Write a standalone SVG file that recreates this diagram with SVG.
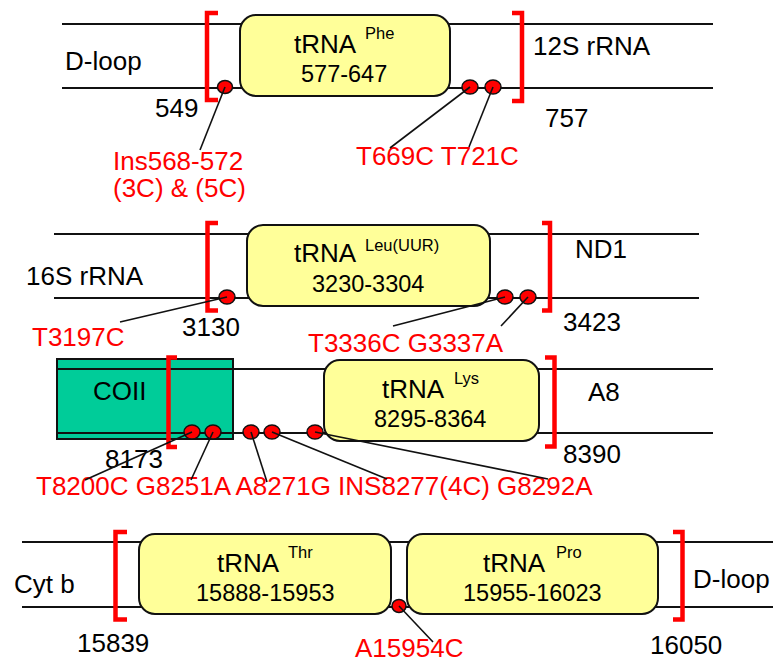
<svg xmlns="http://www.w3.org/2000/svg" width="774" height="664" viewBox="0 0 774 664">
<style>
text{font-family:"Liberation Sans",Arial,sans-serif;}
.dna{stroke:#111;stroke-width:2;fill:none;}
.box{fill:#FFFF99;stroke:#111;stroke-width:2;}
.coii{fill:#00CC99;stroke:#111;stroke-width:2;}
.br{fill:none;stroke:#FF0000;stroke-width:4.5;stroke-linejoin:miter;}
.dot{fill:#FF0000;stroke:#111;stroke-width:1.5;}
.lead{stroke:#111;stroke-width:1.6;fill:none;}
.lbl{font-size:26px;fill:#000;}
.red{font-size:26px;fill:#FF0000;}
.t{font-size:26px;fill:#000;}
.sup{font-size:16.5px;fill:#000;}
.rng{font-size:23.5px;fill:#000;}
</style>
<rect width="774" height="664" fill="#fff"/>

<g id="dna-lines">
<line class="dna" x1="62" y1="24" x2="713" y2="24"/>
<line class="dna" x1="62" y1="88" x2="713" y2="88"/>
<line class="dna" x1="54" y1="234" x2="699" y2="234"/>
<line class="dna" x1="54" y1="298" x2="699" y2="298"/>
<line class="dna" x1="22" y1="542" x2="773" y2="542"/>
<line class="dna" x1="22" y1="607" x2="773" y2="607"/>
</g>

<g id="coii">
<rect class="coii" x="57" y="359" width="176" height="80"/>
<text class="lbl" x="93" y="400">COII</text>
</g>
<g id="dna-lines-3">
<line class="dna" x1="57" y1="369" x2="713" y2="369"/>
<line class="dna" x1="57" y1="433" x2="713" y2="433"/>
</g>

<g id="trna-phe">
<rect class="box" x="240" y="15" width="210" height="81" rx="16"/>
<text class="t" x="294" y="53">tRNA</text>
<text class="sup" x="365" y="39">Phe</text>
<text class="rng" x="301" y="82">577-647</text>
</g>
<g id="trna-leu">
<rect class="box" x="247" y="225" width="243" height="81" rx="16"/>
<text class="t" x="294" y="262">tRNA</text>
<text class="sup" x="365" y="251">Leu(UUR)</text>
<text class="rng" x="312" y="292">3230-3304</text>
</g>
<g id="trna-lys">
<rect class="box" x="324" y="360" width="215" height="81" rx="16"/>
<text class="t" x="382" y="398">tRNA</text>
<text class="sup" x="454" y="384">Lys</text>
<text class="rng" x="374" y="427">8295-8364</text>
</g>
<g id="trna-thr">
<rect class="box" x="139" y="534" width="252" height="80" rx="16"/>
<text class="t" x="217" y="572">tRNA</text>
<text class="sup" x="288" y="558">Thr</text>
<text class="rng" x="196" y="601">15888-15953</text>
</g>
<g id="trna-pro">
<rect class="box" x="407" y="534" width="251" height="80" rx="16"/>
<text class="t" x="483" y="572">tRNA</text>
<text class="sup" x="556" y="558">Pro</text>
<text class="rng" x="463" y="601">15955-16023</text>
</g>

<g id="brackets">
<path class="br" d="M218,13 H207 V100 H218"/>
<path class="br" d="M512,13 H522 V101 H512"/>
<path class="br" d="M218,223 H207.5 V310.5 H218"/>
<path class="br" d="M542,223 H550 V310.5 H542"/>
<path class="br" d="M177,357.5 H168.5 V447 H177"/>
<path class="br" d="M545,357.5 H554.5 V446.5 H545"/>
<path class="br" d="M127,532 H115.5 V619.5 H127"/>
<path class="br" d="M673,532 H682.5 V619.5 H673"/>
</g>

<g id="labels">
<text class="lbl" x="65" y="70">D-loop</text>
<text class="lbl" x="533" y="55">12S rRNA</text>
<text class="lbl" x="155" y="117">549</text>
<text class="lbl" x="545" y="127">757</text>
<text class="lbl" x="26" y="285">16S rRNA</text>
<text class="lbl" x="575" y="258">ND1</text>
<text class="lbl" x="182" y="336">3130</text>
<text class="lbl" x="563" y="331">3423</text>
<text class="lbl" x="588" y="401">A8</text>
<text class="lbl" x="105" y="468">8173</text>
<text class="lbl" x="563" y="463">8390</text>
<text class="lbl" x="14" y="593">Cyt b</text>
<text class="lbl" x="77" y="652">15839</text>
<text class="lbl" x="693" y="588">D-loop</text>
<text class="lbl" x="650" y="654">16050</text>
</g>

<g id="mutations">
<ellipse class="dot" cx="225" cy="87" rx="7.5" ry="6.5"/>
<ellipse class="dot" cx="470" cy="87" rx="8" ry="7"/>
<ellipse class="dot" cx="493" cy="87" rx="8" ry="7"/>
<ellipse class="dot" cx="227" cy="297" rx="8" ry="7"/>
<ellipse class="dot" cx="505" cy="297" rx="8" ry="7"/>
<ellipse class="dot" cx="528" cy="297" rx="8" ry="7"/>
<ellipse class="dot" cx="192" cy="432" rx="8" ry="7"/>
<ellipse class="dot" cx="213" cy="432" rx="8" ry="7"/>
<ellipse class="dot" cx="251" cy="432" rx="8" ry="7"/>
<ellipse class="dot" cx="272" cy="432" rx="8" ry="7"/>
<ellipse class="dot" cx="315" cy="432" rx="8" ry="7"/>
<ellipse class="dot" cx="399" cy="606" rx="7" ry="6.5"/>
<text class="red" x="113" y="170">Ins568-572</text>
<text class="red" x="113" y="197">(3C) &amp; (5C)</text>
<text class="red" x="356" y="165">T669C T721C</text>
<text class="red" x="32" y="346">T3197C</text>
<text class="red" x="308" y="352">T3336C G3337A</text>
<text class="red" x="36" y="495">T8200C G8251A A8271G INS8277(4C) G8292A</text>
<text class="red" x="355" y="657">A15954C</text>
</g>

<g id="connectors">
<line class="lead" x1="225" y1="87" x2="200" y2="150"/>
<line class="lead" x1="470" y1="87" x2="390" y2="148"/>
<line class="lead" x1="493" y1="87" x2="469" y2="147"/>
<line class="lead" x1="227" y1="297" x2="120" y2="322"/>
<line class="lead" x1="505" y1="297" x2="393" y2="326"/>
<line class="lead" x1="528" y1="297" x2="501" y2="326"/>
<line class="lead" x1="192" y1="432" x2="85" y2="480"/>
<line class="lead" x1="213" y1="432" x2="191" y2="480"/>
<line class="lead" x1="251" y1="432" x2="267" y2="482"/>
<line class="lead" x1="272" y1="432" x2="387" y2="479"/>
<line class="lead" x1="315" y1="432" x2="548" y2="479"/>
<line class="lead" x1="399" y1="606" x2="433" y2="642"/>
</g>
</svg>
